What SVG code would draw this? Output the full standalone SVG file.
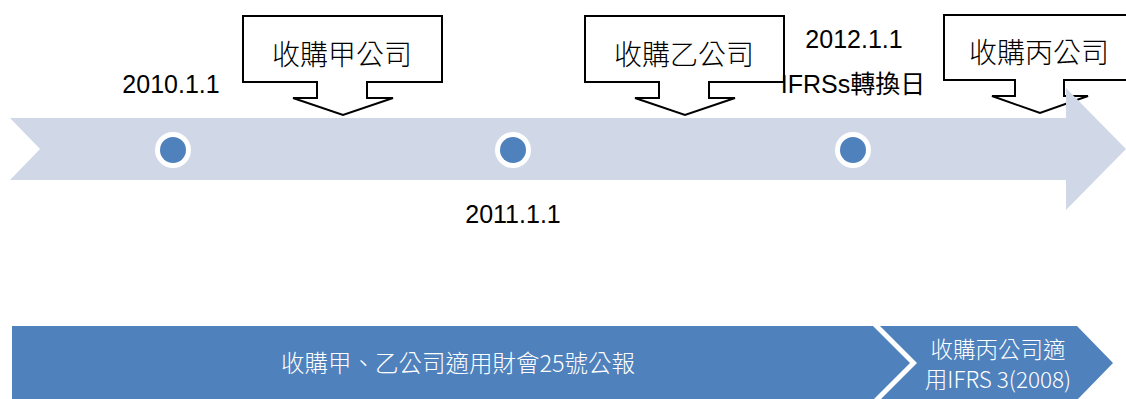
<svg xmlns="http://www.w3.org/2000/svg" width="1126" height="399" viewBox="0 0 1126 399">
<defs>
<style>
.bg{fill:#D0D8E8}
.dot-o{fill:#FFFFFF}
.dot-i{fill:#4F81BD}
.callout{fill:#FFFFFF;stroke:#000000;stroke-width:2}
.ct{font-family:"Noto Sans CJK TC","Noto Sans CJK SC",sans-serif;font-size:28px;font-weight:300;fill:#000000}
.date{font-family:"Liberation Sans","Noto Sans CJK TC",sans-serif;font-size:25px;fill:#000000}
.bar{fill:#4F81BD}
.bt{font-family:"Noto Sans CJK TC","Liberation Sans",sans-serif;font-size:23.5px;font-weight:300;fill:#FFFFFF}
.bt2{font-family:"Noto Sans CJK TC","Liberation Sans",sans-serif;font-size:22.5px;font-weight:300;fill:#FFFFFF}
</style>
</defs>
<g id="callout-jia">
<polygon class="callout" points="243,16 442,16 442,82 367,82 367,98 393,98 343,115 293,98 317,98 317,82 243,82"/>
<text class="ct" x="342" y="65" text-anchor="middle">收購甲公司</text>
</g>
<g id="callout-yi">
<polygon class="callout" points="585,16 784,16 784,82 709,82 709,98 735,98 685,115 635,98 659,98 659,82 585,82"/>
<text class="ct" x="684" y="65" text-anchor="middle">收購乙公司</text>
</g>
<g id="callout-bing">
<polygon class="callout" points="944,15 1143,15 1143,80 1064,80 1064,96 1088,96 1040,113 992,96 1015,96 1015,80 944,80"/>
<text class="ct" x="1039" y="63" text-anchor="middle">收購丙公司</text>
</g>
<g id="timeline">
<polygon class="bg" points="10,118 1066,118 1066,88 1126,149 1066,210 1066,180 10,180 40,149"/>
</g>
<g id="dot-2010">
<circle class="dot-o" cx="173" cy="150" r="18"/>
<circle class="dot-i" cx="173" cy="150" r="13"/>
</g>
<g id="dot-2011">
<circle class="dot-o" cx="513" cy="150" r="18"/>
<circle class="dot-i" cx="513" cy="150" r="13"/>
</g>
<g id="dot-2012">
<circle class="dot-o" cx="853" cy="150" r="18"/>
<circle class="dot-i" cx="853" cy="150" r="13"/>
</g>
<g id="label-2010">
<text class="date" x="171" y="93" text-anchor="middle">2010.1.1</text>
</g>
<g id="label-2011">
<text class="date" x="513" y="223" text-anchor="middle">2011.1.1</text>
</g>
<g id="label-2012">
<text class="date" x="854" y="48" text-anchor="middle">2012.1.1</text>
<text class="date" x="853" y="93" text-anchor="middle">IFRSs轉換日</text>
</g>
<g id="bar-fas25">
<polygon class="bar" points="12,326 873,326 910,363 873,400 12,400"/>
<text class="bt" x="458" y="372" text-anchor="middle">收購甲、乙公司適用財會25號公報</text>
</g>
<g id="bar-ifrs3">
<polygon class="bar" points="880,326 1077,326 1113,363 1077,400 880,400 917,363"/>
<text class="bt2" x="998" y="358" text-anchor="middle">收購丙公司適</text>
<text class="bt2" x="998" y="388" text-anchor="middle">用IFRS 3(2008)</text>
</g>
<g id="connectors"></g>
</svg>
